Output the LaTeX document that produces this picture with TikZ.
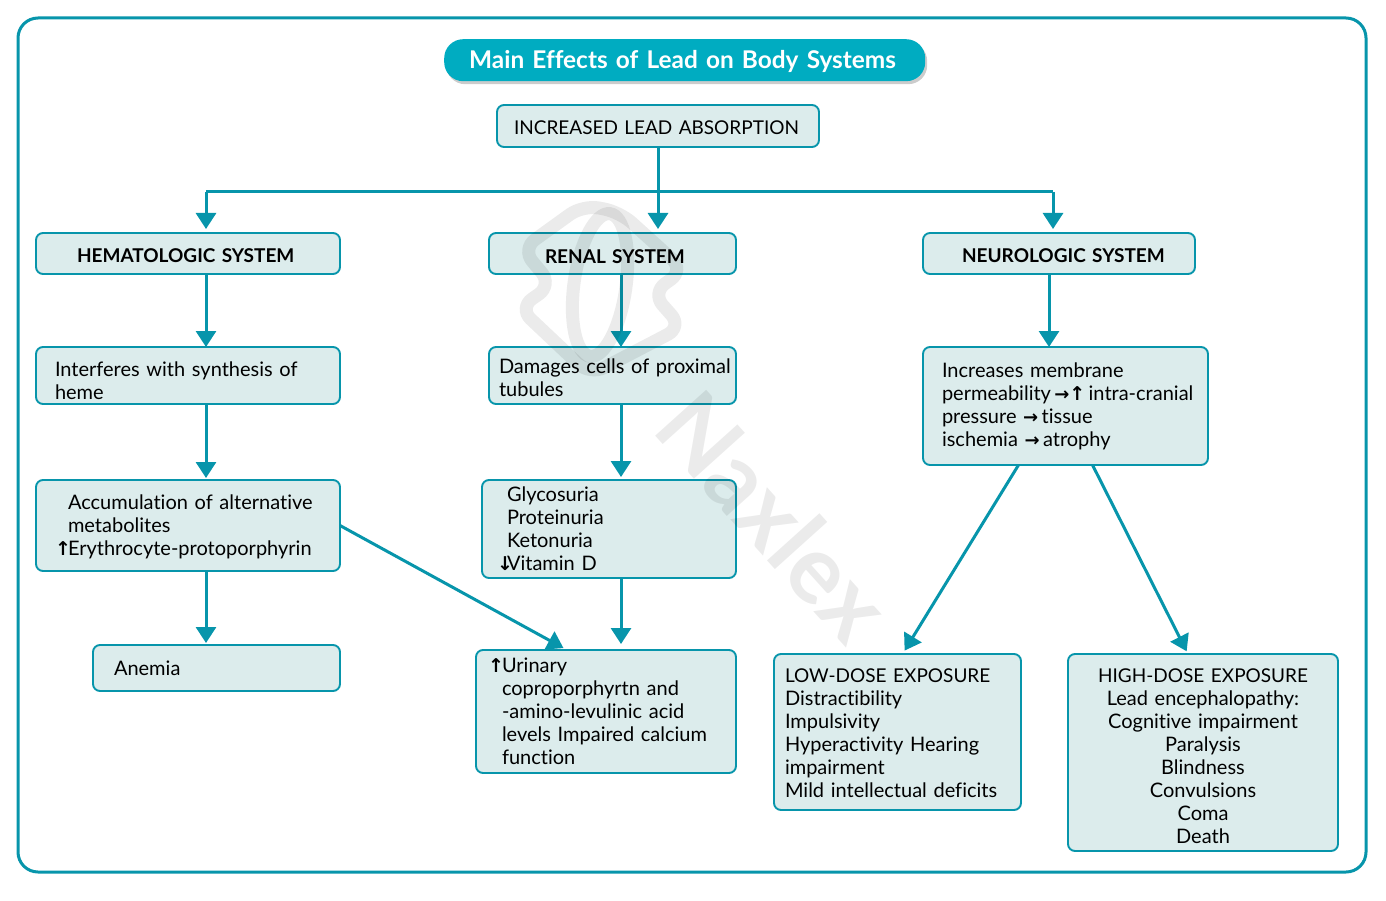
\documentclass[tikz,border=0pt]{standalone}
\usepackage{fontspec}
\setmainfont{Lato}[Ligatures=NoCommon]
\newfontfamily\arrowfont{DejaVu Sans}
\usetikzlibrary{arrows.meta,shadows}
\hyphenpenalty=10000
\exhyphenpenalty=10000
\definecolor{tealline}{HTML}{0795AB}
\definecolor{tealfill}{HTML}{DCECEC}
\definecolor{tealhead}{HTML}{00ACC1}
\newcommand{\upmark}{{\arrowfont\bfseries\fontsize{19}{23}\selectfont ↑}}
\newcommand{\downmark}{{\arrowfont\bfseries\fontsize{19}{23}\selectfont ↓}}
\newcommand{\sidemark}{{\arrowfont\bfseries\fontsize{18}{23}\selectfont →}}
\newcommand{\capsline}[1]{{\fontsize{19}{23}\selectfont #1}}
\newcommand{\lift}[1]{\rule{0pt}{#1pt}}
\tikzset{
  box/.style={draw=tealline, fill=tealfill, line width=1.9pt, rounded corners=7pt, anchor=north west,
    outer sep=0pt, inner ysep=0pt, align=left, font=\fontsize{20}{23}\selectfont},
  heading/.style={box, font=\fontsize{19}{23}\selectfont\bfseries},
  link/.style={draw=tealline, line width=3pt, -{Triangle[length=16pt,width=20pt]}, shorten >=#1},
  link/.default=3pt,
  wire/.style={draw=tealline, line width=3pt}
}
\begin{document}
\begin{tikzpicture}[x=1pt,y=-1pt]
  \useasboundingbox (0,0) rectangle (1386,901);
  % Outer frame
  \draw[tealline, line width=3pt, rounded corners=20pt] (18,18) rectangle (1366,872);

  % Title
  \node[fill=tealhead, rounded corners=19pt, drop shadow={opacity=0.4, shadow xshift=2pt, shadow yshift=-3pt}, text=white, anchor=north west,
    minimum height=42pt, inner xsep=25pt, inner ysep=0pt, text width=431pt,
    font=\fontsize{24.4}{28}\selectfont\bfseries] (title) at (444,39) {\lift{21}\mbox{Main Effects of Lead on Body Systems}};

  % Top of the tree
  \node[box, inner xsep=17pt, text width=288pt, minimum height=42pt, font=\fontsize{19}{23}\selectfont] (absorb) at (497,105) {\lift{18}INCREASED LEAD ABSORPTION};
  \node[heading, inner xsep=41pt, text width=222pt, minimum height=41pt] (hema) at (36,233) {\lift{18}\mbox{HEMATOLOGIC SYSTEM}};
  \node[heading, inner xsep=56pt, text width=135pt, minimum height=41pt] (renal) at (489,233) {\lift{20}\mbox{RENAL SYSTEM}};
  \node[heading, inner xsep=39pt, text width=194pt, minimum height=41pt] (neuro) at (923,233) {\lift{18}\mbox{NEUROLOGIC SYSTEM}};

  % Hematologic column
  \node[box, inner xsep=19pt, text width=266pt, minimum height=57pt] (interf) at (36,347) {\lift{25}Interferes with synthesis of\\heme};
  \node[box, inner xsep=19pt, text width=266pt, minimum height=91pt] (accum) at (36,480)
    {\lift{17}\hspace*{13pt}Accumulation of alternative\\\hspace*{13pt}metabolites\\\makebox[13pt][l]{\upmark}\mbox{Erythrocyte-protoporphyrin}};
  \node[box, inner xsep=21pt, text width=205pt, minimum height=46pt] (anemia) at (93,645) {Anemia};

  % Renal column
  \node[box, inner xsep=10pt, text width=227pt, minimum height=57pt] (damage) at (489,347) {\lift{19}\mbox{Damages cells of proximal}\\tubules};
  \node[box, inner xsep=15pt, text width=224pt, minimum height=98pt] (gly) at (482,480)
    {\hspace*{10pt}Glycosuria\\\hspace*{10pt}Proteinuria\\\hspace*{10pt}Ketonuria\\\makebox[10pt][l]{\downmark}Vitamin D};
  \node[box, inner xsep=12pt, text width=236pt, minimum height=123pt] (urine) at (476,650)
    {\makebox[14pt][l]{\upmark}Urinary\\\hspace*{14pt}coproporphyrtn and\\\hspace*{14pt}-amino-levulinic acid\\\hspace*{14pt}levels Impaired calcium\\\hspace*{14pt}function};

  % Neurologic column
  \node[box, inner xsep=19pt, text width=247pt, minimum height=118pt] (neuroeff) at (923,347)
    {Increases membrane\\\mbox{permeability\,\sidemark\upmark\,intra-cranial}\\pressure \sidemark\,tissue\\ischemia \sidemark\,atrophy};
  \node[box, inner xsep=11pt, text width=225pt, minimum height=156pt] (low) at (774,654)
    {\lift{16}\capsline{LOW-DOSE EXPOSURE}\\Distractibility\\Impulsivity\\Hyperactivity Hearing\\impairment\\\mbox{Mild intellectual deficits}};
  \node[box, inner xsep=10pt, text width=250pt, minimum height=197pt, align=center] (high) at (1068,654)
    {\lift{22}\capsline{HIGH-DOSE EXPOSURE}\\Lead encephalopathy:\\Cognitive impairment\\Paralysis\\Blindness\\Convulsions\\Coma\\Death};

  % Connectors
  \coordinate (busleft) at (206,192);
  \coordinate (busright) at (1053,192);
  \draw[wire] (busleft) -- (busright);
  \draw[link=4pt] (busleft) -- ([xshift=18pt]hema.north);
  \draw[link=4pt] (busright) -- ([xshift=-6pt]neuro.north);
  \draw[link=4pt] (absorb.south) -- ([xshift=45.5pt]renal.north);
  \draw[link=0pt] ([xshift=18pt]hema.south) -- ([xshift=18pt]interf.north);
  \draw[link=2pt] ([xshift=18pt]interf.south) -- ([xshift=18pt]accum.north);
  \draw[link=2pt] ([xshift=18pt]accum.south) -- ([xshift=-10.5pt]anemia.north);
  \draw[link=4pt] (accum.east) -- ([xshift=-39pt]urine.north);
  \draw[link=0pt] ([xshift=8.5pt]renal.south) -- ([xshift=8.5pt]damage.north);
  \draw[link=3pt] ([xshift=8.5pt]damage.south) -- ([xshift=12pt]gly.north);
  \draw[link=6pt] ([xshift=12pt]gly.south) -- ([xshift=15pt]urine.north);
  \draw[link=0pt] ([xshift=-10pt]neuro.south) -- ([xshift=-16.5pt]neuroeff.north);
  \draw[link=4pt] ([xshift=-47pt]neuroeff.south) -- ([xshift=5pt]low.north);
  \draw[link=3pt] ([xshift=27pt]neuroeff.south) -- ([xshift=-15pt]high.north);

  % Watermark
  \begin{scope}[opacity=0.08, draw=black, line width=13pt]
    \draw[rounded corners=16pt] (583,205) -- (522,249) -- (552,285) -- (519,308) -- (590,375) -- (682,327) -- (652,293) -- (684,270) -- (620,212) -- cycle;
    \draw[rotate around={-8:(600,285)}] (600,285) ellipse (26pt and 72pt);
  \end{scope}
  \node[opacity=0.08, rotate=-48, font=\fontsize{95}{95}\selectfont\bfseries] (mark) at (774,516) {Naxlex};
\end{tikzpicture}
\end{document}
